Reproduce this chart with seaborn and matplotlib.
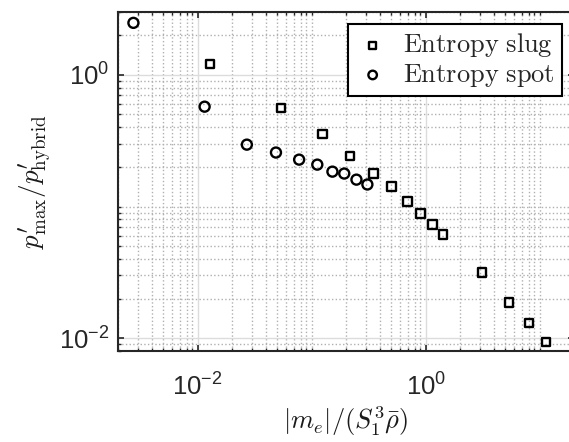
"""Peak pressure ratio vs. normalised entropy mass for slug and spot cases."""

import matplotlib

matplotlib.use("Agg")

import matplotlib.pyplot as plt
import numpy as np
import seaborn as sns
from matplotlib.ticker import FixedLocator, NullFormatter


# values
slug_x = [0.0128, 0.0538, 0.124, 0.218, 0.348, 0.501, 0.693, 0.903, 1.15, 1.41, 3.11, 5.38, 8.07, 11.4]
slug_y = [1.21, 0.562, 0.357, 0.243, 0.178, 0.142, 0.109, 0.0885, 0.0731, 0.0614, 0.0316, 0.0187, 0.0130, 0.00933]
spot_x = [0.00273, 0.0115, 0.0270, 0.0486, 0.0776, 0.112, 0.152, 0.193, 0.247, 0.308]
spot_y = [2.48, 0.573, 0.295, 0.257, 0.227, 0.208, 0.184, 0.178, 0.160, 0.147]

major_ticks = [1e-2, 1e0]
x_limits = (0.002, 20)
y_limits = (0.008, 3)

sns.set_theme(style="ticks")
plt.rcParams["font.family"] = ["Liberation Sans", "DejaVu Sans"]
plt.rcParams["mathtext.fontset"] = "custom"
plt.rcParams["mathtext.rm"] = "Liberation Sans"
plt.rcParams["mathtext.it"] = "Liberation Sans:italic"

fig = plt.figure(figsize=(5.69, 4.42), dpi=100)
ax = fig.add_axes([0.2074, 0.2059, 1.0088 - 0.2074, 0.9729 - 0.2059])
ax.set_xscale("log")
ax.set_yscale("log")

mk = dict(facecolor="none", edgecolor="black", linewidth=1.7, zorder=3)
sns.scatterplot(x=slug_x, y=slug_y, marker="s", s=36, label=r"$\mathrm{Entropy\ slug}$", ax=ax, **mk)
sns.scatterplot(x=spot_x, y=spot_y, marker="o", s=52, label=r"$\mathrm{Entropy\ spot}$", ax=ax, **mk)

ax.set_xlim(*x_limits)
ax.set_ylim(*y_limits)

# MATLAB-style: only every other decade is a labelled major tick
minor = [k * 10.0 ** e for e in range(-4, 3) for k in range(1, 10)]
minor = [v for v in minor if not any(np.isclose(v, m) for m in major_ticks)]
for axis in (ax.xaxis, ax.yaxis):
    axis.set_major_locator(FixedLocator(major_ticks))
    axis.set_minor_locator(FixedLocator(minor))
    axis.set_minor_formatter(NullFormatter())
ax.set_xticklabels([r"$\mathdefault{10^{-2}}$", r"$\mathdefault{10^{0}}$"])
ax.set_yticklabels([r"$\mathdefault{10^{-2}}$", r"$\mathdefault{10^{0}}$"])

ax.grid(True, which="major", color="#dcdcdc", linestyle="-", linewidth=1.0, zorder=0)
ax.grid(True, which="minor", color="#b0b0b0", linestyle=":", linewidth=1.0, zorder=0)
ax.set_axisbelow(True)

ax.tick_params(which="both", direction="in", top=True, right=True, colors="#262626",
               labelsize=18.5)
ax.tick_params(axis="x", which="both", pad=16)
ax.tick_params(axis="y", which="both", pad=6)
ax.tick_params(which="major", length=4.5, width=1.2)
ax.tick_params(which="minor", length=2.5, width=1.0)
for sp in ax.spines.values():
    sp.set_linewidth(1.5)
    sp.set_color("#262626")

ax.set_xlabel(r"$|m_e|/(S_1^3\bar{\rho})$", fontsize=19, math_fontfamily="cm", labelpad=3, color="#1a1a1a")
ax.set_ylabel(r"$p_{\rm max}^{\prime}/p_{\rm hybrid}^{\prime}$", fontsize=19.5, math_fontfamily="cm",
              labelpad=4, color="#1a1a1a")

leg = ax.legend(loc="upper right", fontsize=19, frameon=True, fancybox=False, framealpha=1,
                edgecolor="black", borderaxespad=0.45, borderpad=0.28, handlelength=1.3,
                handletextpad=0.5, labelspacing=0.1, markerscale=0.85)
leg.get_frame().set_linewidth(1.5)
for t in leg.get_texts():
    t.set_math_fontfamily("cm")

fig.savefig("out.png", dpi=100)
